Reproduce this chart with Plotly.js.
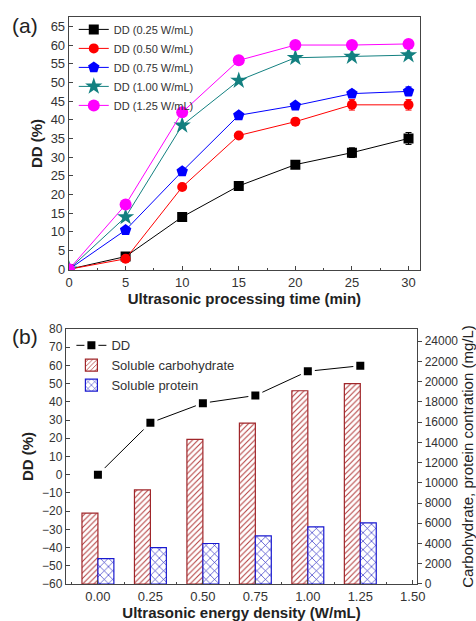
<!DOCTYPE html>
<html><head><meta charset="utf-8">
<script src="https://cdn.plot.ly/plotly-3.0.1.min.js"></script>
<style>html,body{margin:0;padding:0;background:#fff}#c{width:476px;height:621px}</style>
</head><body><div id="c"></div>
<script>
// Panel (a)
const timeMin = [0, 5, 10, 15, 20, 25, 30];
const seriesNames = ['DD (0.25 W/mL)', 'DD (0.50 W/mL)', 'DD (0.75 W/mL)', 'DD (1.00 W/mL)', 'DD (1.25 W/mL)'];
const dd025 = [0, 3.4, 14.0, 22.3, 28.0, 31.2, 35.0];
const dd050 = [0, 2.8, 22.0, 35.8, 39.5, 44.0, 44.0];
const dd075 = [0, 10.5, 26.2, 41.2, 43.8, 47.0, 47.6];
const dd100 = [0, 14.0, 38.5, 50.5, 56.6, 56.9, 57.3];
const dd125 = [0, 17.3, 42.0, 55.9, 60.0, 60.0, 60.3];
const err025 = [0, 0.4, 0.4, 0.5, 0.9, 1.3, 1.6];
const err050 = [0, 0.4, 0.4, 0.5, 0.9, 1.4, 1.4];
const err075 = [0, 0.3, 0.4, 0.5, 0.7, 0.9, 1.2];
const err100 = [0, 0.3, 0.3, 0.5, 0.5, 0.7, 0.8];
const err125 = [0, 0.2, 0.3, 0.4, 0.4, 0.5, 0.6];

// Panel (b)
const energy = [0.00, 0.25, 0.50, 0.75, 1.00, 1.25];
const ddEnergy = [0, 28.5, 39.3, 43.5, 56.8, 59.8];
const carbohydrate = [7000, 9300, 14300, 15900, 19100, 19800];
const protein = [2500, 3600, 4000, 4750, 5650, 6050];

const colors = ['#000000', '#ff0000', '#0000ff', '#138080', '#ff00ff'];
const symbols = ['square', 'circle', 'pentagon', 'star', 'circle'];
const sizes = [10, 10, 12, 13, 12];
const ys = [dd025, dd050, dd075, dd100, dd125];
const errs = [err025, err050, err075, err100, err125];

const traces = [];
for (let i = 0; i < 5; i++) {
  traces.push({
    x: timeMin, y: ys[i], name: seriesNames[i], type: 'scatter', mode: 'lines+markers',
    xaxis: 'x', yaxis: 'y', legend: 'legend',
    line: {color: colors[i], width: 1},
    marker: {color: colors[i], symbol: symbols[i], size: sizes[i]},
    error_y: {type: 'data', array: errs[i], color: colors[i], thickness: 1, width: 3}
  });
}
traces.push({
  x: energy, y: carbohydrate, name: 'Soluble carbohydrate', type: 'bar', legendrank: 2,
  xaxis: 'x2', yaxis: 'y3', legend: 'legend2', offset: -0.076, width: 0.076,
  marker: {color: '#ffffff', line: {color: '#a0262a', width: 1.2},
    pattern: {shape: '/', fgcolor: '#b23a3a', bgcolor: '#ffffff', size: 4, solidity: 0.25}}
});
traces.push({
  x: energy, y: protein, name: 'Soluble protein', type: 'bar', legendrank: 3,
  xaxis: 'x2', yaxis: 'y3', legend: 'legend2', offset: 0, width: 0.076,
  marker: {color: '#ffffff', line: {color: '#1a1ad0', width: 1.2},
    pattern: {shape: 'x', fgcolor: '#2020c0', bgcolor: '#ffffff', size: 6, solidity: 0.2}}
});
traces.push({
  x: energy, y: ddEnergy, name: 'DD', type: 'scatter', mode: 'lines+markers', legendrank: 1,
  xaxis: 'x2', yaxis: 'y2', legend: 'legend2',
  line: {color: '#000000', width: 1},
  marker: {color: '#000000', symbol: 'square', size: 11, line: {color: '#ffffff', width: 3}}
});

const fam = 'Liberation Sans, Arial, sans-serif';
const tickFont = {family: fam, size: 13, color: '#333'};
const titleFont = {family: fam, size: 15, color: '#222', weight: 'bold'};
const axCommon = {showline: true, linecolor: '#444', linewidth: 1.3, ticks: 'inside', ticklen: 4,
  tickcolor: '#444', tickfont: tickFont, showgrid: false, zeroline: false};

const layout = {
  width: 476, height: 621, margin: {l: 0, r: 0, t: 0, b: 0},
  paper_bgcolor: '#fff', plot_bgcolor: '#fff', barmode: 'overlay',
  font: {family: fam},
  xaxis: Object.assign({}, axCommon, {domain: [0.145, 0.882], anchor: 'y', range: [0, 31],
    tickvals: [0, 5, 10, 15, 20, 25, 30], mirror: true,
    minor: {dtick: 2.5, ticks: 'inside', ticklen: 2, tickcolor: '#444'},
    title: {text: 'Ultrasonic processing time (min)', font: titleFont, standoff: 2}}),
  yaxis: Object.assign({}, axCommon, {domain: [0.5652, 0.9726], anchor: 'x', range: [-0.2, 67.5],
    dtick: 5, mirror: true,
    title: {text: 'DD (%)', font: titleFont, standoff: 4}}),
  xaxis2: Object.assign({}, axCommon, {domain: [0.1387, 0.876], anchor: 'y2', range: [-0.152, 1.52],
    tickvals: [0, 0.25, 0.5, 0.75, 1.0, 1.25, 1.5], tickformat: '.2f', mirror: true,
    minor: {dtick: 0.125, ticks: 'inside', ticklen: 2, tickcolor: '#444'},
    title: {text: 'Ultrasonic energy density (W/mL)', font: titleFont, standoff: 9}}),
  yaxis2: Object.assign({}, axCommon, {domain: [0.0596, 0.4702], anchor: 'x2', range: [-60, 80],
    dtick: 10, tickfont: Object.assign({}, tickFont, {size: 12}),
    title: {text: 'DD (%)', font: titleFont, standoff: 4}}),
  yaxis3: Object.assign({}, axCommon, {overlaying: 'y2', side: 'right', anchor: 'x2', range: [0, 25200],
    dtick: 2000, tickformat: 'd', ticks: 'outside', tickfont: Object.assign({}, tickFont, {size: 12}),
    title: {text: 'Carbohydrate, protein contration (mg/L)', font: {family: fam, size: 15, color: '#222'}, standoff: 6}}),
  legend: {x: 0.155, y: 0.976, xanchor: 'left', yanchor: 'top', bgcolor: 'rgba(0,0,0,0)',
    font: {family: fam, size: 11, color: '#333'}, tracegroupgap: 0, itemwidth: 30},
  legend2: {x: 0.15, y: 0.468, xanchor: 'left', yanchor: 'top', bgcolor: 'rgba(0,0,0,0)',
    font: {family: fam, size: 13, color: '#333'}, itemwidth: 30},
  annotations: [
    {text: '(a)', xref: 'paper', yref: 'paper', x: 10 / 476, y: 1 - 26 / 621, xanchor: 'left', yanchor: 'middle', showarrow: false,
      font: {family: fam, size: 21, color: '#222'}},
    {text: '(b)', xref: 'paper', yref: 'paper', x: 10 / 476, y: 1 - 336 / 621, xanchor: 'left', yanchor: 'middle', showarrow: false,
      font: {family: fam, size: 21, color: '#222'}}
  ]
};
Plotly.newPlot('c', traces, layout, {displayModeBar: false, staticPlot: true});
</script></body></html>
